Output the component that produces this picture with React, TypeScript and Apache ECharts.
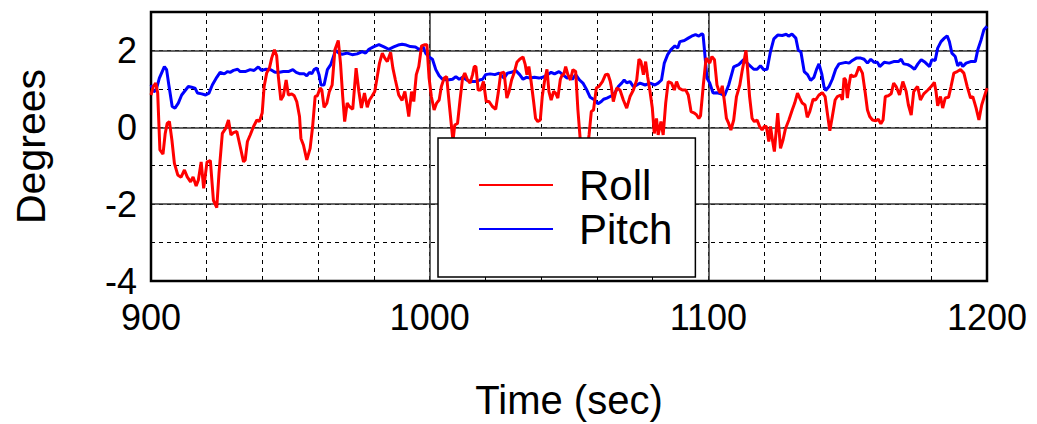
import React, { useEffect, useRef } from "react";
import * as echarts from "echarts";

// Sample times (s) and attitude angles (deg)
const rollTime = [
  900.0, 900.8, 901.7, 902.4, 903.2, 904.3, 905.1, 905.8, 906.6, 907.5, 908.4, 909.6, 910.8, 912.0, 913.0, 914.2,
  915.1, 916.2, 917.0, 918.0, 918.9, 920.1, 921.3, 922.4, 923.6, 924.4, 925.6, 926.8, 927.8, 928.7, 929.6, 930.8,
  932.0, 933.2, 933.8, 934.6, 935.6, 936.8, 938.0, 938.9, 939.9, 940.6, 941.5, 942.5, 943.3, 944.3, 945.1, 945.7,
  946.6, 947.5, 948.5, 949.3, 950.5, 951.4, 952.3, 953.3, 953.8, 954.7, 955.9, 957.1, 958.0, 958.9, 959.7, 960.7,
  961.3, 962.1, 963.1, 964.0, 965.0, 966.0, 967.2, 968.0, 968.8, 969.5, 970.4, 971.2, 972.4, 973.6, 974.6, 975.5,
  976.6, 977.6, 978.4, 979.4, 980.3, 981.2, 982.0, 983.0, 983.9, 984.8, 986.0, 986.8, 987.7, 988.9, 990.1, 991.1,
  991.9, 992.5, 993.5, 994.3, 995.2, 996.1, 997.1, 998.3, 999.0, 999.8, 1000.6, 1001.6, 1002.5, 1003.4, 1004.2,
  1005.2, 1006.1, 1007.0, 1007.6, 1008.2, 1008.4, 1009.0, 1010.0, 1010.9, 1011.8, 1012.6, 1013.6, 1014.5, 1015.4,
  1016.0, 1016.6, 1017.4, 1018.3, 1019.3, 1020.3, 1021.3, 1022.5, 1023.7, 1024.6, 1025.5, 1026.7, 1027.7, 1028.5,
  1029.4, 1030.3, 1031.3, 1032.3, 1033.5, 1034.3, 1034.9, 1035.6, 1036.4, 1037.3, 1038.0, 1038.8, 1039.7, 1040.4,
  1041.2, 1042.1, 1042.8, 1043.6, 1044.5, 1045.2, 1046.0, 1046.9, 1047.6, 1048.1, 1048.8, 1049.6, 1050.5, 1051.4,
  1052.4, 1053.2, 1054.0, 1055.0, 1056.2, 1057.2, 1058.0, 1058.8, 1059.8, 1060.7, 1062.0, 1063.1, 1064.0, 1064.8,
  1065.2, 1065.9, 1067.1, 1068.3, 1069.5, 1070.7, 1071.9, 1073.1, 1074.3, 1075.1, 1075.8, 1076.7, 1077.5, 1078.2,
  1079.0, 1079.9, 1080.6, 1081.4, 1082.0, 1083.0, 1083.8, 1084.7, 1085.6, 1086.8, 1087.8, 1088.6, 1089.5, 1090.7,
  1091.9, 1092.8, 1093.8, 1095.0, 1095.8, 1096.6, 1097.2, 1098.2, 1099.2, 1100.5, 1101.3, 1102.2, 1103.1, 1103.7,
  1104.3, 1105.0, 1105.7, 1106.5, 1107.3, 1108.1, 1109.1, 1110.1, 1111.3, 1112.1, 1112.9, 1113.5, 1114.1, 1114.8,
  1115.7, 1116.5, 1117.5, 1118.4, 1119.3, 1120.1, 1120.8, 1121.7, 1122.3, 1123.0, 1123.7, 1124.9, 1125.9, 1126.8,
  1127.7, 1128.9, 1130.1, 1131.0, 1132.0, 1132.8, 1133.7, 1134.7, 1135.5, 1136.4, 1137.6, 1138.5, 1139.7, 1140.9,
  1141.9, 1142.7, 1143.6, 1144.5, 1145.5, 1146.3, 1147.5, 1148.1, 1148.7, 1149.3, 1149.9, 1150.5, 1151.1, 1151.9,
  1152.9, 1154.1, 1155.3, 1156.3, 1157.1, 1157.9, 1158.9, 1160.1, 1161.0, 1161.9, 1162.7, 1163.5, 1164.6, 1165.6,
  1166.5, 1167.4, 1168.6, 1169.8, 1171.0, 1171.8, 1172.8, 1173.7, 1174.6, 1175.1, 1176.1, 1177.3, 1178.8, 1180.2,
  1181.1, 1181.7, 1182.3, 1183.3, 1184.1, 1185.0, 1186.2, 1187.1, 1188.1, 1189.3, 1190.5, 1191.7, 1192.9, 1194.1,
  1194.9, 1196.1, 1197.1, 1198.1, 1200.0,
];
const rollDeg = [
  0.84, 1.06, 1.15, 0.89, -0.59, -0.70, -0.16, 0.10, 0.15, -0.33, -0.94, -1.24, -1.30, -1.11, -1.29, -1.42,
  -1.29, -1.53, -1.37, -0.90, -1.59, -0.90, -0.87, -1.90, -2.09, -1.20, -0.16, -0.03, 0.19, -0.20, -0.14, -0.11,
  -0.50, -0.90, -0.85, -0.37, -0.20, 0.02, 0.19, 0.15, 0.37, 1.06, 1.41, 1.54, 1.80, 2.02, 1.86, 1.32,
  0.71, 0.82, 1.23, 0.84, 0.87, 0.82, 0.67, 0.28, -0.29, -0.46, -0.85, -0.55, 0.02, 0.80, 0.82, 1.02,
  0.97, 0.52, 0.63, 0.93, 1.10, 2.02, 2.26, 1.67, 0.80, 0.15, 0.63, 0.54, 0.47, 1.54, 0.93, 0.50,
  0.89, 0.52, 0.71, 0.82, 0.93, 1.32, 1.67, 1.93, 1.80, 1.71, 1.95, 1.54, 1.23, 0.84, 0.70, 0.93,
  0.58, 0.28, 0.93, 0.67, 1.37, 1.58, 2.12, 2.15, 2.15, 1.28, 0.80, 0.45, 0.63, 0.71, 1.06,
  1.28, 1.32, 0.63, 0.19, -0.24, -0.33, 0.06, 0.10, 0.71, 1.28, 1.41, 1.23, 1.15, 1.37,
  1.58, 1.58, 0.97, 0.97, 1.19, 0.67, 0.67, 0.54, 0.47, 0.89, 1.41, 1.43, 0.76, 0.93,
  1.23, 1.41, 1.69, 1.77, 1.83, 1.63, 1.37, 1.58, 1.19, 0.67, 0.23, 0.15, 0.19, 0.80,
  1.19, 1.51, 0.93, 0.71, 0.93, 0.89, 0.76, 1.25, 1.37, 1.37, 1.58, 1.37, 1.23, 1.50,
  1.45, 0.45, -0.29, -0.90, -0.70, -0.20, 0.41, 0.45, 1.02, 1.06, 1.19, 1.37, 1.38, 1.20,
  1.05, 0.67, 1.02, 0.97, 0.71, 0.50, 0.80, 0.97, 1.23, 1.77, 1.71, 1.37, 1.71, 1.32,
  0.97, 0.50, -0.16, 0.23, -0.20, 0.15, -0.20, 0.63, 1.19, 1.15, 0.97, 1.19, 1.02, 0.97,
  0.97, 0.84, 0.41, 0.37, 0.32, 0.23, 0.30, 1.10, 1.80, 1.67, 1.84, 1.76, 1.10, 0.97,
  0.89, 1.08, 0.71, 0.23, 0.10, -0.07, 0.19, 0.80, 1.10, 1.45, 1.76, 2.00, 1.50, 0.80,
  0.23, 0.15, 0.19, 0.02, -0.07, 0.03, 0.02, -0.37, 0.02, -0.33, -0.63, 0.37, -0.55, -0.33,
  -0.03, 0.19, 0.45, 0.63, 0.89, 0.76, 0.63, 0.58, 0.26, 0.41, 0.73, 0.71, 0.84, 0.90,
  0.80, 0.37, -0.09, 0.28, 0.71, 0.80, 0.84, 0.71, 1.28, 1.23, 0.76, 1.10, 1.37, 1.32,
  1.34, 1.58, 1.41, 0.90, 0.45, 0.28, 0.19, 0.17, 0.21, 0.09, 0.19, 0.80, 0.82, 0.87,
  1.15, 1.06, 0.84, 1.19, 0.93, 0.58, 0.32, 0.93, 1.02, 1.06, 0.71, 0.87, 0.97, 1.08,
  1.17, 0.93, 0.56, 0.80, 0.50, 0.76, 0.78, 1.06, 1.41, 1.45, 1.50, 1.41, 1.06, 0.76,
  0.80, 0.50, 0.19, 0.58, 1.02,
];

const pitchTime = [
  900.0, 901.0, 901.8, 903.0, 904.8, 905.6, 906.4, 907.6, 908.6, 909.8, 911.0, 912.2, 913.4, 914.6, 915.8, 916.7,
  918.2, 919.6, 920.8, 922.0, 923.6, 924.8, 926.3, 927.5, 928.4, 929.6, 931.1, 932.0, 933.8, 935.6, 937.0, 938.5,
  939.7, 941.3, 943.0, 944.5, 946.1, 947.5, 949.3, 950.9, 952.1, 953.5, 955.0, 955.9, 956.9, 957.7, 958.5, 959.5,
  960.3, 961.0, 962.1, 963.3, 964.5, 966.2, 967.4, 968.6, 970.4, 972.2, 974.0, 975.8, 977.0, 978.2, 980.0, 981.8,
  983.6, 985.3, 987.1, 988.7, 990.1, 991.6, 993.1, 994.9, 996.4, 997.6, 998.6, 999.8, 1001.0, 1002.2, 1003.4,
  1004.6, 1006.4, 1008.2, 1009.4, 1010.6, 1011.8, 1013.3, 1014.8, 1016.6, 1017.9, 1019.0, 1020.1, 1021.7, 1023.4,
  1024.9, 1026.7, 1027.9, 1029.4, 1030.9, 1032.3, 1033.5, 1034.7, 1036.1, 1037.6, 1039.2, 1040.6, 1042.4, 1043.6,
  1044.8, 1046.4, 1047.8, 1049.3, 1050.2, 1051.2, 1052.4, 1053.8, 1055.0, 1056.4, 1057.6, 1059.2, 1060.4, 1061.6,
  1062.4, 1063.6, 1065.3, 1066.5, 1067.7, 1068.9, 1069.8, 1070.7, 1071.9, 1073.1, 1074.3, 1075.5, 1077.3, 1079.1,
  1080.8, 1082.0, 1083.2, 1084.2, 1085.4, 1086.6, 1088.0, 1089.0, 1089.8, 1091.4, 1092.8, 1094.0, 1095.4, 1096.6,
  1097.6, 1098.1, 1098.6, 1099.5, 1100.5, 1101.7, 1103.1, 1104.6, 1105.8, 1107.3, 1109.1, 1110.9, 1112.7, 1114.5,
  1116.3, 1117.5, 1118.7, 1119.9, 1121.1, 1122.3, 1123.5, 1124.9, 1126.5, 1128.0, 1128.8, 1130.0, 1131.4, 1132.3,
  1133.2, 1134.4, 1135.6, 1136.7, 1137.9, 1138.8, 1139.7, 1140.7, 1141.5, 1142.1, 1143.3, 1144.5, 1145.7, 1146.9,
  1148.1, 1149.3, 1150.5, 1151.7, 1153.1, 1154.7, 1155.9, 1157.1, 1158.3, 1159.5, 1160.7, 1161.5, 1163.1, 1164.9,
  1166.5, 1168.2, 1169.2, 1170.1, 1171.6, 1172.8, 1174.0, 1175.2, 1176.4, 1177.8, 1179.4, 1180.2, 1181.4, 1182.3,
  1183.5, 1184.7, 1185.7, 1186.5, 1187.4, 1188.6, 1189.5, 1190.5, 1191.3, 1192.5, 1194.1, 1195.8, 1196.7, 1197.9,
  1198.9, 1200.0,
];
const pitchDeg = [
  1.10, 0.93, 0.96, 1.28, 1.58, 1.50, 1.10, 0.54, 0.50, 0.63, 0.84, 0.95, 1.06, 1.04, 1.02, 0.89,
  0.87, 0.84, 0.89, 1.10, 1.30, 1.43, 1.39, 1.45, 1.43, 1.48, 1.51, 1.45, 1.45, 1.50, 1.48, 1.57,
  1.48, 1.51, 1.50, 1.43, 1.43, 1.45, 1.45, 1.50, 1.43, 1.39, 1.39, 1.34, 1.43, 1.39, 1.50, 1.54,
  1.37, 1.10, 1.10, 1.50, 1.63, 2.00, 1.93, 1.90, 1.93, 1.89, 1.91, 1.97, 1.93, 2.03, 2.10, 2.15,
  2.09, 2.03, 2.09, 2.14, 2.16, 2.14, 2.10, 2.09, 2.02, 2.10, 1.92, 1.83, 1.77, 1.50, 1.34,
  1.25, 1.23, 1.25, 1.32, 1.25, 1.30, 1.23, 1.19, 1.19, 1.23, 1.25, 1.37, 1.39, 1.37,
  1.41, 1.28, 1.41, 1.43, 1.48, 1.37, 1.25, 1.30, 1.28, 1.30, 1.28, 1.30, 1.37, 1.43,
  1.39, 1.45, 1.37, 1.28, 1.32, 1.25, 1.37, 1.23, 1.15, 0.97, 0.78, 0.71, 0.61, 0.67,
  0.73, 0.76, 0.82, 0.90, 1.06, 1.15, 1.23, 1.16, 1.19, 1.06, 1.10, 1.15, 1.10, 1.15,
  1.10, 1.15, 1.23, 1.67, 1.89, 2.02, 2.12, 2.06, 2.23, 2.26, 2.32, 2.37, 2.41, 2.37,
  2.43, 2.41, 2.02, 1.28, 1.15, 0.89, 0.90, 0.87, 0.82, 1.10, 1.57, 1.63, 1.76, 1.63,
  1.51, 1.51, 1.60, 1.50, 1.51, 1.97, 2.30, 2.40, 2.39, 2.42, 2.37, 2.43, 2.32, 2.00,
  1.97, 1.45, 1.37, 1.22, 1.30, 1.50, 1.65, 1.39, 1.06, 0.96, 1.06, 1.25, 1.51, 1.65,
  1.67, 1.69, 1.67, 1.74, 1.80, 1.80, 1.77, 1.67, 1.77, 1.69, 1.69, 1.58, 1.69, 1.67,
  1.71, 1.71, 1.77, 1.65, 1.63, 1.58, 1.51, 1.65, 1.76, 1.69, 1.58, 1.76, 1.74, 2.06,
  2.23, 2.32, 2.38, 2.23, 1.93, 1.84, 1.60, 1.69, 1.58, 1.67, 1.71, 1.71, 2.02, 2.28,
  2.54, 2.63,
];

// Labelled ticks on the degree axis
const yTickLabels = [-4, -2, 0, 2];

const FONT = "'Liberation Sans', Arial, Helvetica, sans-serif";

const pairs = (xs: number[], ys: number[]) => xs.map((x, i) => [x, ys[i]]);

export default function App() {
  const ref = useRef<HTMLDivElement>(null);

  useEffect(() => {
    if (!ref.current) return;
    const chart = echarts.init(ref.current, undefined, { renderer: "svg" });

    const hidden = { show: false };
    const dashed = { show: true, lineStyle: { color: "#000", width: 1, type: [4, 4] as number[] } };
    const solid = { show: true, lineStyle: { color: "#333", width: 1.5 } };

    chart.setOption({
      animation: false,
      backgroundColor: "#fff",
      grid: {
        left: 151,
        right: 50,
        top: 12,
        bottom: 143,
        outerBoundsMode: "none",
        containLabel: false,
        show: true,
        borderColor: "#000",
        borderWidth: 2.5,
        backgroundColor: "transparent",
        z: 3,
      },
      xAxis: [
        {
          type: "value",
          min: 900,
          max: 1200,
          interval: 100,
          z: 2,
          axisLine: hidden,
          axisTick: hidden,
          splitLine: solid,
          axisLabel: {
            fontSize: 36,
            fontFamily: FONT,
            color: "#000",
            margin: 18,
            formatter: (v: number) => String(v),
          },
          name: "Time (sec)",
          nameLocation: "middle",
          nameGap: 119,
          nameTextStyle: {
            fontSize: 40,
            fontFamily: FONT,
            color: "#000",
            lineHeight: 36,
            verticalAlign: "middle",
          },
        },
        {
          type: "value",
          min: 900,
          max: 1200,
          interval: 20,
          z: 1,
          axisLine: hidden,
          axisTick: hidden,
          axisLabel: hidden,
          splitLine: dashed,
        },
      ],
      yAxis: [
        {
          type: "value",
          min: -4,
          max: 3,
          interval: 2,
          z: 2,
          axisLine: hidden,
          axisTick: hidden,
          splitLine: solid,
          axisLabel: {
            fontSize: 36,
            fontFamily: FONT,
            color: "#000",
            margin: 14,
            formatter: (v: number) => (yTickLabels.includes(v) ? String(v) : ""),
          },
          name: "Degrees",
          nameLocation: "middle",
          nameGap: 100,
          nameTextStyle: { fontSize: 41, fontFamily: FONT, color: "#000" },
        },
        {
          type: "value",
          min: -4,
          max: 3,
          interval: 1,
          z: 1,
          axisLine: hidden,
          axisTick: hidden,
          axisLabel: hidden,
          splitLine: dashed,
        },
      ],
      legend: {
        data: ["Roll", "Pitch"],
        orient: "vertical",
        left: 438,
        top: 138,
        icon: "rect",
        backgroundColor: "#fff",
        borderColor: "#000",
        borderWidth: 1.5,
        borderRadius: 0,
        padding: [26, 23, 27, 41],
        itemWidth: 74,
        itemHeight: 2,
        itemGap: 2,
        z: 10,
        textStyle: {
          fontSize: 42,
          fontFamily: FONT,
          color: "#000",
          lineHeight: 42,
          padding: [0, 0, 0, 21],
        },
      },
      series: [
        {
          name: "Pitch",
          type: "line",
          xAxisIndex: 0,
          yAxisIndex: 0,
          data: pairs(pitchTime, pitchDeg),
          symbol: "none",
          showSymbol: false,
          color: "#0000ff",
          lineStyle: { color: "#0000ff", width: 3 },
          z: 4,
        },
        {
          name: "Roll",
          type: "line",
          xAxisIndex: 0,
          yAxisIndex: 0,
          data: pairs(rollTime, rollDeg),
          symbol: "none",
          showSymbol: false,
          color: "#ff0000",
          lineStyle: { color: "#ff0000", width: 3 },
          z: 5,
        },
      ],
    });

    return () => chart.dispose();
  }, []);

  return (
    <div
      ref={ref}
      style={{ position: "fixed", left: 0, top: 0, width: 1037, height: 424, background: "#fff" }}
    />
  );
}
